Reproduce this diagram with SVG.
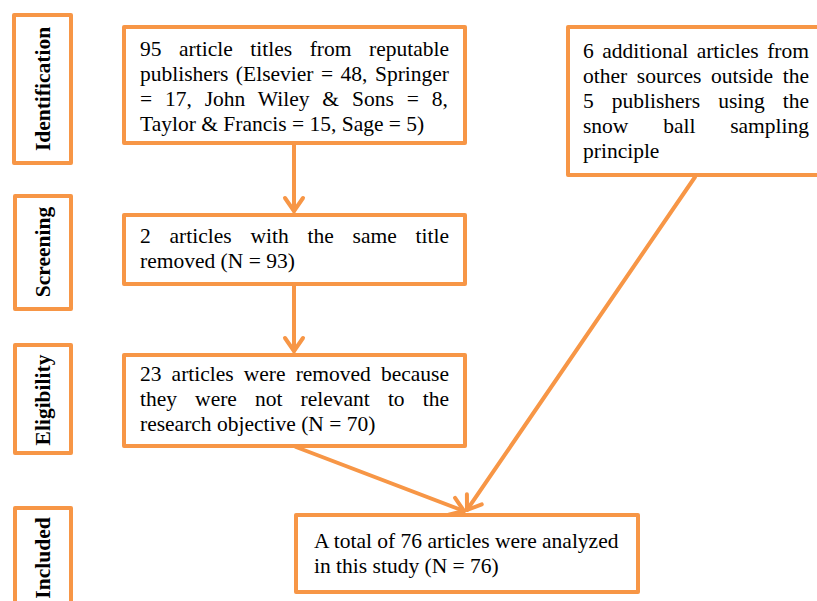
<svg xmlns="http://www.w3.org/2000/svg" width="817" height="601" viewBox="0 0 817 601">
<style>
  .box { fill: #ffffff; stroke: #F79646; stroke-width: 4; stroke-linejoin: round; }
  .t { font-family: "Liberation Serif", "Times New Roman", serif; font-size: 21.5px; fill: #000000; }
  .lbl { font-family: "Liberation Serif", "Times New Roman", serif; font-size: 21.5px; font-weight: bold; fill: #000000; text-anchor: middle; dominant-baseline: central; }
  .conn { stroke: #F79646; stroke-width: 4; fill: none; stroke-linecap: round; }
</style>
<defs>
  <marker id="arr" markerUnits="userSpaceOnUse" markerWidth="30" markerHeight="30" refX="0" refY="0" viewBox="-20 -15 25 30" orient="auto" overflow="visible">
    <path d="M -13 -9 L 0 0 L -13 9" fill="none" stroke="#F79646" stroke-width="4" stroke-linecap="round" stroke-linejoin="round"/>
  </marker>
</defs>
<rect width="817" height="601" fill="#ffffff"/>

<g id="connectors">
  <line class="conn" x1="294" y1="145" x2="294" y2="211" marker-end="url(#arr)"/>
  <line class="conn" x1="294" y1="286" x2="294" y2="351" marker-end="url(#arr)"/>
  <line class="conn" x1="296" y1="447" x2="464" y2="511" marker-end="url(#arr)"/>
  <line class="conn" x1="695" y1="177" x2="467" y2="510" marker-end="url(#arr)"/>
</g>

<g id="label-identification">
  <rect class="box" x="14" y="15" width="57" height="148"/>
  <text class="lbl" transform="translate(43,89) rotate(-90)">Identification</text>
</g>
<g id="label-screening">
  <rect class="box" x="15" y="196" width="56" height="113"/>
  <text class="lbl" transform="translate(43,252) rotate(-90)">Screening</text>
</g>
<g id="label-eligibility">
  <rect class="box" x="15" y="345" width="56" height="108"/>
  <text class="lbl" transform="translate(43,400) rotate(-90)">Eligibility</text>
</g>
<g id="label-included">
  <rect class="box" x="15" y="508" width="56" height="120"/>
  <text class="lbl" transform="translate(43,558) rotate(-90)">Included</text>
</g>

<g id="node-identification">
  <rect class="box" x="124" y="27" width="341" height="116"/>
  <text class="t" x="140" y="56" word-spacing="12.17">95 article titles from reputable</text>
  <text class="t" x="140" y="81" word-spacing="2.11">publishers (Elsevier = 48, Springer</text>
  <text class="t" x="140" y="106" word-spacing="7.49">= 17, John Wiley &amp; Sons = 8,</text>
  <text class="t" x="140" y="131">Taylor &amp; Francis = 15, Sage = 5)</text>
</g>

<g id="node-screening">
  <rect class="box" x="124" y="215" width="341" height="69"/>
  <text class="t" x="140" y="243" word-spacing="13.43">2 articles with the same title</text>
  <text class="t" x="140" y="268">removed (N = 93)</text>
</g>

<g id="node-eligibility">
  <rect class="box" x="124" y="355" width="341" height="91"/>
  <text class="t" x="140" y="381" word-spacing="4.72">23 articles were removed because</text>
  <text class="t" x="140" y="406" word-spacing="12.72">they were not relevant to the</text>
  <text class="t" x="140" y="431">research objective (N = 70)</text>
</g>

<g id="node-additional">
  <rect class="box" x="568" y="27" width="260" height="148"/>
  <text class="t" x="583" y="58" word-spacing="3.08">6 additional articles from</text>
  <text class="t" x="583" y="83" word-spacing="4.28">other sources outside the</text>
  <text class="t" x="583" y="108" word-spacing="12.63">5 publishers using the</text>
  <text class="t" x="583" y="133" word-spacing="29.38">snow ball sampling</text>
  <text class="t" x="583" y="158">principle</text>
</g>

<g id="node-included">
  <rect class="box" x="296" y="515" width="342" height="77"/>
  <text class="t" x="314" y="548">A total of 76 articles were analyzed</text>
  <text class="t" x="314" y="573">in this study (N = 76)</text>
</g>
</svg>
